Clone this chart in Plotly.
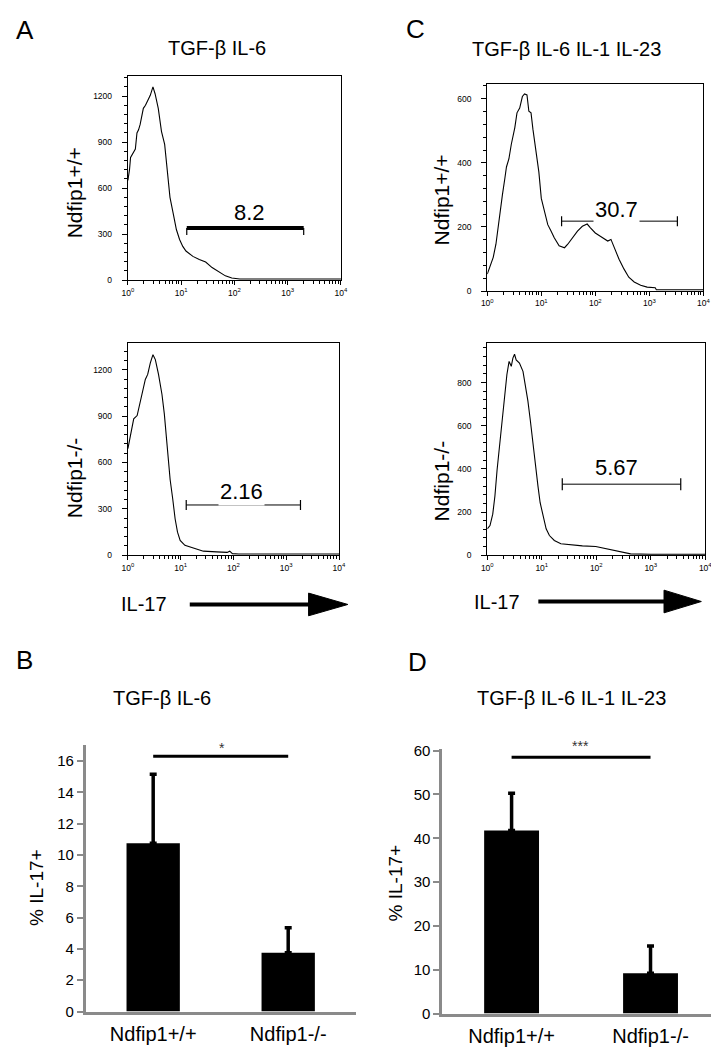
import math
import plotly.graph_objects as go

W, H = 719, 1050
FONT = "Liberation Sans, Arial, Helvetica, sans-serif"

# ---------------- data ----------------
# Histograms: x = log10(IL-17 intensity), y = cell count
a_wt_x = [0.00, 0.03, 0.05, 0.10, 0.14, 0.17, 0.20, 0.23, 0.29, 0.33, 0.36, 0.42, 0.47, 0.51, 0.57,
          0.63, 0.69, 0.72, 0.755, 0.79, 0.85, 0.91, 0.97, 1.03, 1.09, 1.22, 1.34, 1.46, 1.58, 1.71,
          1.83, 1.95, 2.10, 2.50, 3.00, 3.50, 4.00]
a_wt_y = [650, 720, 800, 830, 855, 960, 980, 1015, 1120, 1140, 1165, 1205, 1260, 1215, 1120,
          970, 885, 780, 650, 540, 435, 330, 265, 220, 190, 155, 135, 118, 82, 55,
          28, 14, 8, 8, 8, 8, 8]

a_ko_x = [0.00, 0.05, 0.11, 0.175, 0.24, 0.30, 0.33, 0.375, 0.425, 0.475, 0.52, 0.58, 0.645, 0.69,
          0.725, 0.757, 0.80, 0.85, 0.895, 0.94, 0.99, 1.08, 1.24, 1.43, 1.68, 1.88, 1.93, 1.98,
          2.10, 2.50, 3.00, 3.50, 4.00]
a_ko_y = [690, 787, 883, 904, 1010, 1106, 1138, 1170, 1245, 1298, 1266, 1170, 1042, 915,
          766, 617, 490, 362, 234, 149, 96, 64, 47, 26, 21, 18, 26, 10,
          8, 8, 8, 8, 8]

c_wt_x = [0.00, 0.05, 0.11, 0.16, 0.20, 0.23, 0.28, 0.325, 0.355, 0.40, 0.445, 0.51, 0.55, 0.60,
          0.65, 0.69, 0.735, 0.77, 0.81, 0.845, 0.905, 0.955, 1.00, 1.06, 1.12, 1.18, 1.24, 1.33,
          1.43, 1.49, 1.58, 1.67, 1.76, 1.85, 1.91, 2.00, 2.10, 2.23, 2.29, 2.35, 2.44, 2.53,
          2.62, 2.72, 2.84, 2.96, 3.11, 3.13, 3.50, 4.00]
c_wt_y = [53, 74, 105, 146, 197, 248, 300, 351, 387, 412, 458, 510, 556, 571,
          607, 615, 612, 561, 556, 505, 433, 371, 289, 248, 207, 187, 166, 141,
          135, 146, 166, 187, 202, 209, 197, 181, 170, 156, 161, 135, 99, 69,
          43, 28, 18, 12, 10, 4, 4, 4]

c_ko_x = [0.00, 0.05, 0.10, 0.14, 0.18, 0.23, 0.28, 0.32, 0.36, 0.40, 0.44, 0.47, 0.50, 0.53,
          0.59, 0.655, 0.70, 0.745, 0.79, 0.835, 0.885, 0.93, 0.97, 1.02, 1.08, 1.14, 1.23, 1.35,
          1.50, 1.745, 1.99, 2.27, 2.45, 2.63, 3.00, 3.50, 4.00]
c_ko_y = [122, 137, 190, 274, 396, 517, 624, 731, 837, 898, 875, 913, 931, 905,
          890, 852, 791, 715, 624, 517, 411, 320, 243, 183, 122, 91, 68, 53,
          49, 43, 40, 24, 17, 6, 4, 4, 4]

# gates: low edge, high edge (log10), height (count), percentage label
gate_lo = [1.105, 1.105, 1.376, 1.376]
gate_hi = [3.30, 3.27, 3.52, 3.55]
gate_y = [340, 325, 218, 329]
gate_pct = ["8.2", "2.16", "30.7", "5.67"]

# y-axis ranges and ticks of the histograms
hist_ymax = [1330, 1372, 646, 982]
hist_ydtick = [300, 300, 200, 200]
hist_yminor = [60, 60, 40, 40]
decade_ticks = [0, 1, 2, 3, 4]
decade_text = ["10<sup>0</sup>", "10<sup>1</sup>", "10<sup>2</sup>", "10<sup>3</sup>", "10<sup>4</sup>"]

# bar charts
groups = ["Ndfip1+/+", "Ndfip1-/-"]
b_mean = [10.75, 3.75]
b_err = [4.4, 1.6]
b_sig_y = 16.3
d_mean = [41.8, 9.2]
d_err = [8.5, 6.2]
d_sig_y = 58.5

# ---------------- helpers ----------------
def PX(x):
    return x / W

def PY(y):
    return 1 - y / H

fig = go.Figure()
layout = dict(
    width=W, height=H, margin=dict(l=0, r=0, t=0, b=0),
    paper_bgcolor="white", plot_bgcolor="white", showlegend=False,
    font=dict(family=FONT, color="black"),
)
shapes = []
annotations = []

def ann(text, x, y, size, **kw):
    d = dict(text=text, x=PX(x), y=PY(y), xref="paper", yref="paper", showarrow=False,
             font=dict(family=FONT, size=size, color=kw.pop("color", "black")),
             xanchor="center", yanchor="middle")
    d.update(kw)
    annotations.append(d)

# histogram panels: domains in pixels (left, right, top, bottom)
hist_dom = [(116, 333, 62, 269), (116, 331, 333, 548), (482, 702, 70, 280), (482, 704, 333, 548)]
hist_x = [a_wt_x, a_ko_x, c_wt_x, c_ko_x]
hist_y = [a_wt_y, a_ko_y, c_wt_y, c_ko_y]
gate_w = [4, 1, 1, 1]
gate_cap = [(-7, 0), (-5, 5), (-5, 5), (-6, 6)]
minor_x = [k + math.log10(m) for k in range(4) for m in range(2, 10)]

for i in range(4):
    n = i + 1
    xa = "x" if n == 1 else f"x{n}"
    ya = "y" if n == 1 else f"y{n}"
    l, r, t, b = hist_dom[i]
    fig.add_trace(go.Scatter(x=hist_x[i], y=hist_y[i], mode="lines",
                             line=dict(color="black", width=1.1), xaxis=xa, yaxis=ya,
                             hoverinfo="skip"))
    layout["xaxis" if n == 1 else f"xaxis{n}"] = dict(
        domain=[PX(l), PX(r)], anchor=ya, range=[0, 4], showgrid=False, zeroline=False,
        showline=True, mirror=True, linecolor="black", linewidth=1.3,
        tickmode="array", tickvals=decade_ticks, ticktext=decade_text,
        ticks="outside", ticklen=4, tickwidth=1, tickcolor="black",
        tickfont=dict(family=FONT, size=8.5, color="black"),
        minor=dict(tickvals=minor_x, ticks="outside", ticklen=3, tickwidth=1, tickcolor="black"),
    )
    layout["yaxis" if n == 1 else f"yaxis{n}"] = dict(
        domain=[PY(b), PY(t)], anchor=xa, range=[0, hist_ymax[i]], showgrid=False,
        zeroline=False, showline=True, mirror=True, linecolor="black", linewidth=1.3,
        tick0=0, dtick=hist_ydtick[i], ticks="outside", ticklen=5, tickwidth=1,
        tickcolor="black", ticklabelstandoff=8,
        tickfont=dict(family=FONT, size=8.5, color="black"),
        minor=dict(dtick=hist_yminor[i], ticks="outside", ticklen=3, tickwidth=1,
                   tickcolor="black"),
    )
    # gate
    shapes.append(dict(type="line", xref=xa, yref=ya, x0=gate_lo[i], x1=gate_hi[i],
                       y0=gate_y[i], y1=gate_y[i], line=dict(color="black", width=gate_w[i])))
    for gx in (gate_lo[i], gate_hi[i]):
        shapes.append(dict(type="line", xref=xa, yref=ya, ysizemode="pixel", yanchor=gate_y[i],
                           x0=gx, x1=gx, y0=gate_cap[i][0], y1=gate_cap[i][1],
                           line=dict(color="black", width=1.2)))

# gate labels
ann(gate_pct[0], 240, 200, 22)
ann(gate_pct[1], 232, 483, 22, bgcolor="white", borderpad=1)
ann(gate_pct[2], 614, 197, 22, bgcolor="white", borderpad=1)
ann(gate_pct[3], 614, 459, 22)

# bar panels
bar_dom = [(73, 348, 741, 1011), (436, 719, 745, 1013)]
bar_mean = [b_mean, d_mean]
bar_err = [b_err, d_err]
bar_rng = [17, 60.3]
bar_dtick = [2, 10]
bar_sig = [b_sig_y, d_sig_y]
GRAY = "#8a8a8a"
for j in range(2):
    n = 5 + j
    xa, ya = f"x{n}", f"y{n}"
    l, r, t, b = bar_dom[j]
    fig.add_trace(go.Bar(x=groups, y=bar_mean[j], width=0.395, marker=dict(color="black", line=dict(width=0)),
                         error_y=dict(type="data", array=bar_err[j], arrayminus=[0, 0],
                                      symmetric=False, color="black", thickness=3.5, width=3.5),
                         xaxis=xa, yaxis=ya, hoverinfo="skip"))
    layout[f"xaxis{n}"] = dict(
        domain=[PX(l), PX(r)], anchor=ya, type="category", range=[-0.5, 1.5],
        showgrid=False, zeroline=False, showline=True, linecolor=GRAY, linewidth=2.5,
        ticks="outside", ticklen=3, tickcolor="rgba(0,0,0,0)",
        tickfont=dict(family=FONT, size=20, color="black"),
    )
    layout[f"yaxis{n}"] = dict(
        domain=[PY(b), PY(t)], anchor=xa, range=[0, bar_rng[j]], showgrid=False,
        zeroline=False, showline=True, linecolor=GRAY, linewidth=2.5,
        tick0=0, dtick=bar_dtick[j], ticks="outside", ticklen=6, tickwidth=2,
        tickcolor=GRAY, tickfont=dict(family=FONT, size=15, color="black"),
    )
    shapes.append(dict(type="line", xref=xa, yref=ya, x0=groups[0], x1=groups[1],
                       y0=bar_sig[j], y1=bar_sig[j], line=dict(color="black", width=3)))

ann("*", 212, 744, 14, color="#333333")
ann("***", 577, 742, 14, color="#333333")

# panel letters and titles
ann("A", 11, 15, 26)
ann("C", 409, 14, 26)
ann("B", 11, 654, 26)
ann("D", 411, 656, 26)
ann("TGF-β IL-6", 207, 33, 20)
ann("TGF-β IL-6 IL-1 IL-23", 563, 34, 20)
ann("TGF-β IL-6", 151, 693, 20)
ann("TGF-β IL-6 IL-1 IL-23", 568, 693, 20)

# axis titles
ann("Ndfip1+/+", 62, 180, 21, textangle=-90)
ann("Ndfip1-/-", 61, 469, 21, textangle=-90)
ann("Ndfip1+/+", 435, 188, 21, textangle=-90)
ann("Ndfip1-/-", 435, 473, 21, textangle=-90)
ann("% IL-17+", 23, 885, 19, textangle=-90)
ann("% IL-17+", 388, 880, 19, textangle=-90)
ann("IL-17", 132, 598, 20)
ann("IL-17", 492, 595, 20)

# IL-17 arrows
def arrow(x0, xb, xt, yc, half):
    shapes.append(dict(type="line", xref="paper", yref="paper", x0=PX(x0), x1=PX(xb + 2),
                       y0=PY(yc), y1=PY(yc), line=dict(color="black", width=4)))
    path = (f"M {PX(xb)},{PY(yc - half)} L {PX(xt)},{PY(yc)} "
            f"L {PX(xb)},{PY(yc + half)} Z")
    shapes.append(dict(type="path", xref="paper", yref="paper", path=path,
                       fillcolor="black", line=dict(color="black", width=1)))

arrow(179, 300, 340, 598, 11.5)
arrow(534, 662, 700, 595, 11.5)

layout["shapes"] = shapes
layout["annotations"] = annotations
fig.update_layout(**layout)
fig.write_html("out.html")
